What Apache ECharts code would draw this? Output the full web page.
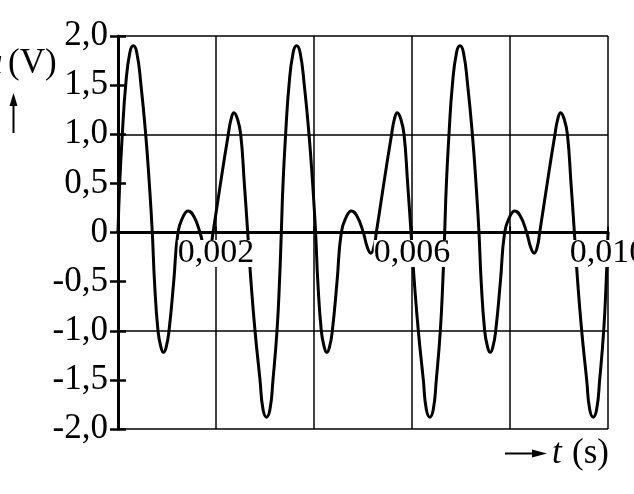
<!DOCTYPE html>
<html>
<head>
<meta charset="utf-8">
<script src="https://cdn.jsdelivr.net/npm/echarts@6/dist/echarts.min.js"></script>
<style>
html,body{margin:0;padding:0;background:#fff;}
#c{width:634px;height:494px;}
</style>
</head>
<body>
<div id="c"></div>
<script>
// time in milliseconds
const tMs = [
 0.000,0.035,0.088,0.157,0.241,0.312,0.384,0.469,0.565,0.639,0.700,0.745,0.816,0.873,0.929,0.986,1.041,1.137,1.224,1.327,1.429,1.551,1.673,1.755,1.827,1.888,1.939,2.092,2.251,2.310,2.367,2.435,2.504,2.578,2.647,2.714,2.796,2.898,2.959,3.031,3.102,3.163,3.245,3.296,
 3.333,3.368,3.421,3.490,3.574,3.645,3.717,3.802,3.898,3.972,4.033,4.078,4.149,4.206,4.262,4.319,4.374,4.470,4.557,4.660,4.762,4.884,5.006,5.088,5.160,5.221,5.272,5.425,5.584,5.643,5.700,5.768,5.837,5.911,5.980,6.047,6.129,6.231,6.292,6.364,6.435,6.496,6.578,6.629,
 6.667,6.702,6.755,6.824,6.908,6.979,7.051,7.136,7.232,7.306,7.367,7.412,7.483,7.540,7.596,7.653,7.708,7.804,7.891,7.994,8.096,8.218,8.340,8.422,8.494,8.555,8.606,8.759,8.918,8.977,9.034,9.102,9.171,9.245,9.314,9.381,9.463,9.565,9.626,9.698,9.769,9.830,9.912,9.963,10.000
];
// voltage in volts
const uV = [
 0,0.5,1.0,1.5,1.83,1.90,1.83,1.5,1.0,0.5,0,-0.5,-1.0,-1.16,-1.22,-1.16,-1.0,-0.5,0,0.16,0.22,0.16,0,-0.15,-0.21,-0.15,0,0.5,1.0,1.16,1.22,1.16,1.0,0.5,0,-0.5,-1.0,-1.5,-1.80,-1.88,-1.80,-1.5,-1.0,-0.5,
 0,0.5,1.0,1.5,1.83,1.90,1.83,1.5,1.0,0.5,0,-0.5,-1.0,-1.16,-1.22,-1.16,-1.0,-0.5,0,0.16,0.22,0.16,0,-0.15,-0.21,-0.15,0,0.5,1.0,1.16,1.22,1.16,1.0,0.5,0,-0.5,-1.0,-1.5,-1.80,-1.88,-1.80,-1.5,-1.0,-0.5,
 0,0.5,1.0,1.5,1.83,1.90,1.83,1.5,1.0,0.5,0,-0.5,-1.0,-1.16,-1.22,-1.16,-1.0,-0.5,0,0.16,0.22,0.16,0,-0.15,-0.21,-0.15,0,0.5,1.0,1.16,1.22,1.16,1.0,0.5,0,-0.5,-1.0,-1.5,-1.80,-1.88,-1.80,-1.5,-1.0,-0.5,0
];
// tick labels
const xTickLabels = ['', '0,002', '', '0,006', '', '0,010'];   // at 0,2,4,6,8,10 ms
const yTickLabels = ['-2,0','-1,5','-1,0','-0,5','0','0,5','1,0','1,5','2,0'];
const yAxisName = '(V)';
const yAxisSymbol = 'u';
const xAxisSymbol = 't';
const xAxisUnit = '(s)';

const FONT = 'Liberation Serif';
const data = tMs.map((t, i) => [t, uV[i]]);

const chart = echarts.init(document.getElementById('c'));
chart.setOption({
  animation: false,
  backgroundColor: '#fff',
  grid: { left: 118, right: 26, top: 36, bottom: 65, show: false, containLabel: false, outerBoundsMode: 'none' },
  xAxis: [{
    type: 'value', min: 0, max: 10, interval: 2, z: 10,
    axisLine: { onZero: true, lineStyle: { color: '#000', width: 3 } },
    axisTick: { show: true, inside: true, length: 6, lineStyle: { color: '#000', width: 2 } },
    axisLabel: { show: false },
    splitLine: { show: true, lineStyle: { color: '#000', width: 1.5 } }
  }, {
    type: 'value', min: 0, max: 10, interval: 2, z: 11, position: 'bottom', offset: -197,
    axisLine: { show: false, onZero: false },
    axisTick: { show: false },
    axisLabel: {
      show: true, showMaxLabel: true, showMinLabel: true, hideOverlap: false,
      margin: 8, color: '#000', fontFamily: FONT, fontSize: 34, lineHeight: 27,
      backgroundColor: '#fff', padding: [0, 0, 0, 0],
      formatter: v => xTickLabels[Math.round(v / 2)] || ''
    },
    splitLine: { show: false }
  }],
  yAxis: [{
    type: 'value', min: -2, max: 2, interval: 0.5,
    axisLine: { show: true, onZero: false, lineStyle: { color: '#000', width: 3 } },
    axisTick: { show: true, inside: false, length: 8, lineStyle: { color: '#000', width: 2.5 } },
    axisLabel: {
      margin: 10, color: '#000', fontFamily: FONT, fontSize: 35,
      formatter: v => yTickLabels[Math.round((v + 2) / 0.5)]
    },
    splitLine: { show: true, lineStyle: { color: ['#000', 'rgba(0,0,0,0)'], width: 1.5 } }
  }, {
    type: 'value', min: -2, max: 2, interval: 0.5, position: 'left', offset: 0,
    axisLine: { show: false },
    axisTick: { show: true, inside: true, length: 8, lineStyle: { color: '#000', width: 2.5 } },
    axisLabel: { show: false },
    splitLine: { show: false }
  }],
  series: [{
    type: 'line', data: data, showSymbol: false, smooth: 0.5, xAxisIndex: 0, yAxisIndex: 0,
    lineStyle: { color: '#000', width: 3 }, z: 2, clip: true
  }],
  graphic: [
    { type: 'text', left: -15, top: 46, style: { text: yAxisSymbol, font: 'italic 35px "Liberation Serif"', fill: '#000' } },
    { type: 'text', left: 8, top: 46, style: { text: yAxisName, font: '35px "Liberation Serif"', fill: '#000' } },
    { type: 'line', shape: { x1: 13.5, y1: 133, x2: 13.5, y2: 100 }, style: { stroke: '#000', lineWidth: 2 } },
    { type: 'polygon', shape: { points: [[13.5, 93], [9.5, 106], [17.5, 106]] }, style: { fill: '#000' } },
    { type: 'line', shape: { x1: 505, y1: 453.5, x2: 540, y2: 453.5 }, style: { stroke: '#000', lineWidth: 2 } },
    { type: 'polygon', shape: { points: [[547, 453.5], [532, 449.5], [532, 457.5]] }, style: { fill: '#000' } },
    { type: 'text', left: 552, top: 436, style: { text: xAxisSymbol, font: 'italic 35px "Liberation Serif"', fill: '#000' } },
    { type: 'text', left: 572, top: 436, style: { text: xAxisUnit, font: '35px "Liberation Serif"', fill: '#000' } }
  ]
});
</script>
</body>
</html>
